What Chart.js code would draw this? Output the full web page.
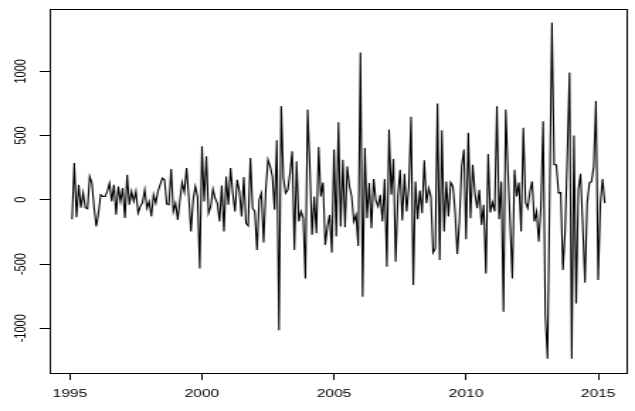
<!DOCTYPE html>
<html>
<head>
<meta charset="utf-8">
<script src="https://cdn.jsdelivr.net/npm/chart.js@4/dist/chart.umd.min.js"></script>
<style>
  html, body { margin: 0; padding: 0; background: #ffffff; }
  #c { display: block; }
</style>
</head>
<body>
<canvas id="c" width="448" height="411" style="width:635px;height:411px;"></canvas>
<script>
// Monthly series, starting February 1995 (frequency 12)
const startYear = 1995 + 1 / 12;
const frequency = 12;

const values1995_1997 = [-151, 287, -135, 117, -62, 55, -62, -70, 182, 130, -60, -208, -104, 39, 26, 26,
  65, 130, -13, 117, -117, 104, -13, 91, -141, 195, -39, 65, -13, 65, -104, -52];
const values1997_2000 = [-20, 78, -65, -13, -130, 39, -26, 65, 117, 169, 156, -34, -39, 240, -91, -26,
  -156, 0, 135, 60, 247, 26, -247, 0, 104, 26, -534, 417, -13, 339, -104, -52, 83, 10, -26, -169, 112];
const values2000_2003 = [-247, 182, -39, 247, 52, -91, 156, 65, -130, 177, -182, -203, 326, -65, -91, -391,
  0, 52, -333, 78, 312, 260, 182, -78, 463, -1016, 729, 169, 52, 78, 208, 378, -391, 299, -169, -91, -143];
const values2003_2006 = [-612, 703, 260, -273, 26, -260, 411, 26, 135, -352, -208, -117, -411, 391, -286, 604,
  -208, 312, -214, 260, 104, 26, -169, -117, -359, 1146, -755, 404, -143, 130, -221, 162, -5, -52, 39, -169];
const values2006_2009 = [162, -521, 547, 39, 318, -482, 26, 234, -161, 203, -91, 104, 646, -664, 143, -151,
  73, -104, 307, -26, 91, 26, -411, -378, 750, -469, 542, -247, 143, -130, 135, 104, -91, -422, -156, 260, 391];
const values2009_2012 = [-307, 521, -143, 273, 52, -65, 78, -195, -39, -573, 357, -99, -21, -91, 729, -151,
  143, -872, 703, 234, -180, -612, 234, 26, 135, -247, 560, -20, -65, 65, 143, -169, -91, -326, -52, 612];
const values2012_2015 = [-900, -1237, 80, 1380, 273, 273, 52, 57, -547, -234, 350, 990, -1237, 500, -807, 78,
  203, -200, -646, -26, 130, 143, 260, 768, -625, -26, 162, -26];

const xTickLabels = [1995, 2000, 2005, 2010, 2015];
const yTickLabels = [-1000, -500, 0, 500, 1000];

const series = [].concat(values1995_1997, values1997_2000, values2000_2003, values2003_2006,
  values2006_2009, values2009_2012, values2012_2015);
const points = series.map((v, i) => ({ x: startYear + i / frequency, y: v }));

const tickFont = { family: '"Liberation Sans", Arial, Helvetica, sans-serif', size: 11 };

const boxPlugin = {
  id: 'rbox',
  afterDraw(chart) {
    const a = chart.chartArea;
    const c = chart.ctx;
    c.save();
    c.strokeStyle = '#000';
    c.lineWidth = 1;
    c.strokeRect(Math.round(a.left) + 0.5, Math.round(a.top) + 0.5,
      Math.round(a.right) - Math.round(a.left), Math.round(a.bottom) - Math.round(a.top));
    c.restore();
  }
};

new Chart(document.getElementById('c'), {
  type: 'line',
  data: {
    datasets: [{
      data: points,
      borderColor: '#000',
      borderWidth: 1.1,
      pointRadius: 0,
      tension: 0,
      fill: false
    }]
  },
  options: {
    responsive: false,
    animation: false,
    devicePixelRatio: 1,
    layout: { padding: { top: 9, right: 6, left: 0, bottom: 0 } },
    plugins: { legend: { display: false }, tooltip: { enabled: false } },
    scales: {
      x: {
        type: 'linear',
        min: 1994.233,
        max: 2016.073,
        afterBuildTicks: s => { s.ticks = xTickLabels.map(v => ({ value: v })); },
        afterFit: s => { s.height = 38; },
        grid: { drawOnChartArea: false, drawTicks: true, tickLength: 7, tickColor: '#000', tickWidth: 1 },
        border: { display: false },
        ticks: { font: tickFont, color: '#000', padding: 7, maxRotation: 0, minRotation: 0, autoSkip: false,
          callback: v => String(v) }
      },
      y: {
        type: 'linear',
        min: -1348,
        max: 1485,
        afterBuildTicks: s => { s.ticks = yTickLabels.map(v => ({ value: v })); },
        afterFit: s => { s.width = 35; },
        grid: { drawOnChartArea: false, drawTicks: true, tickLength: 7, tickColor: '#000', tickWidth: 1 },
        border: { display: false },
        ticks: { font: tickFont, color: '#000', padding: -1, minRotation: 90, maxRotation: 90,
          crossAlign: 'center', autoSkip: false, callback: v => String(v) }
      }
    }
  },
  plugins: [boxPlugin]
});
</script>
</body>
</html>
